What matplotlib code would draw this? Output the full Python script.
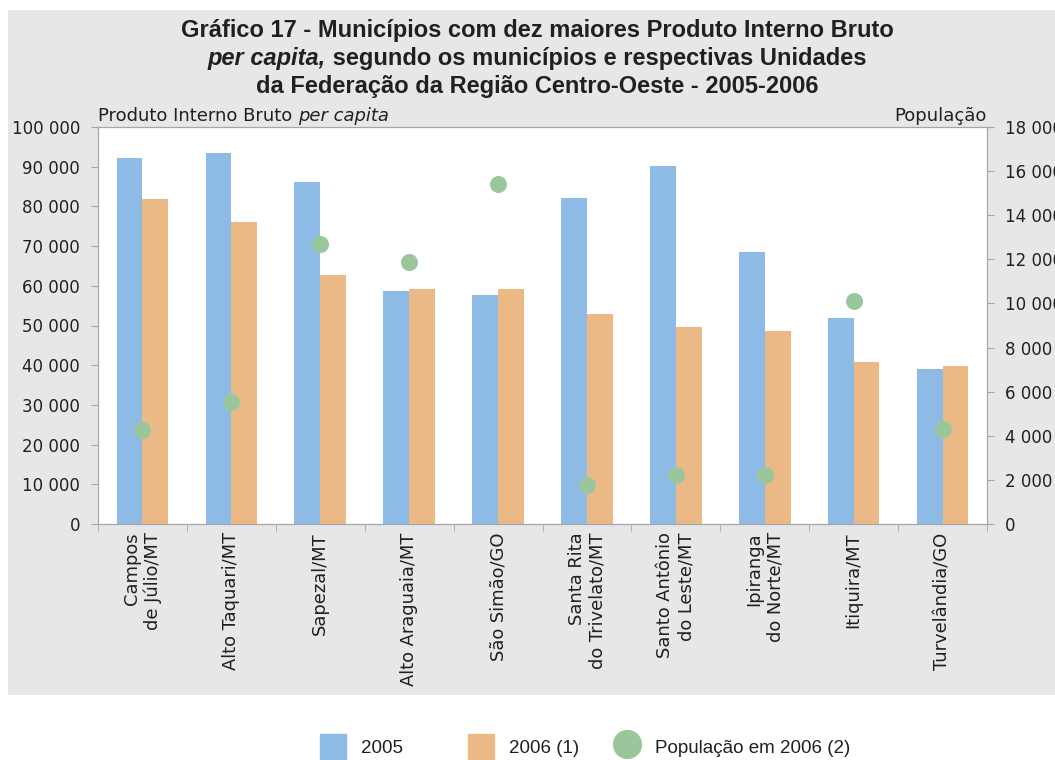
import matplotlib
matplotlib.use("Agg")
from matplotlib import pyplot as plt
from matplotlib.patches import Rectangle, Patch
from matplotlib.lines import Line2D
from matplotlib.ticker import FuncFormatter, MultipleLocator
import numpy as np

municipios = ["Campos\nde Júlio/MT", "Alto Taquari/MT", "Sapezal/MT", "Alto Araguaia/MT",
              "São Simão/GO", "Santa Rita\ndo Trivelato/MT", "Santo Antônio\ndo Leste/MT",
              "Ipiranga\ndo Norte/MT", "Itiquira/MT", "Turvelândia/GO"]
pib_2005 = [92200, 93400, 86100, 58600, 57800, 82100, 90100, 68400, 51800, 39100]
pib_2006 = [81800, 76000, 62600, 59100, 59100, 53000, 49500, 48500, 40900, 39900]
populacao_2006 = [4270, 5550, 12700, 11900, 15400, 1770, 2200, 2200, 10100, 4300]

blue = "#8dbbe5"
orange = "#ebb986"
green = "#99c79b"
grey = "#a6a6a6"
txt = "#231f20"

plt.rcParams["font.family"] = ["DejaVu Sans"]

fig = plt.figure(figsize=(10.55, 7.6), dpi=100)
fig.patch.set_facecolor("white")
fig.patches.append(Rectangle((8 / 1055, 1 - 695 / 760), 1, 685 / 760, transform=fig.transFigure,
                             facecolor="#e6e7e8", edgecolor="none", zorder=-10))

ax = fig.add_axes([98 / 1055, 1 - 524 / 760, 889 / 1055, 397 / 760])
ax.set_facecolor("white")
x = np.arange(len(municipios))
w = 0.29
ax.bar(x - w / 2, pib_2005, w, color=blue, label="2005")
ax.bar(x + w / 2, pib_2006, w, color=orange, label="2006 (1)")
ax.set_xlim(-0.5, len(municipios) - 0.5)
ax.set_ylim(0, 100000)
ax.yaxis.set_major_locator(MultipleLocator(10000))
fmt = FuncFormatter(lambda v, p: f"{int(v):,}".replace(",", " "))
ax.yaxis.set_major_formatter(fmt)

ax.set_xticks(x)
ax.set_xticklabels(municipios, rotation=90, ha="center", va="top", multialignment="right",
                   fontsize=12.9, color=txt)
ax.set_xticks(np.arange(-0.5, len(municipios)), minor=True)
ax.tick_params(axis="x", which="major", length=0, pad=6)
ax.tick_params(axis="x", which="minor", length=5, color=grey, direction="out")
ax.tick_params(axis="y", length=5, color=grey, labelsize=12, labelcolor=txt, pad=8)
for s in ax.spines.values():
    s.set_color(grey)

ax2 = ax.twinx()
ax2.scatter(x, populacao_2006, s=150, color=green, zorder=3, linewidths=0)
ax2.set_ylim(0, 18000)
ax2.yaxis.set_major_locator(MultipleLocator(2000))
ax2.yaxis.set_major_formatter(fmt)
ax2.tick_params(axis="y", length=5, color=grey, labelsize=12, labelcolor=txt, pad=8)
for s in ax2.spines.values():
    s.set_color(grey)

# axis titles
t = ax.text(0, 1.006, "Produto Interno Bruto ", transform=ax.transAxes, fontsize=13,
            color=txt, ha="left", va="bottom")
ax.annotate("per capita", xy=(1, 0), xycoords=t, ha="left", va="bottom", fontsize=13,
            style="italic", color=txt)
ax.text(1, 1.006, "População", transform=ax.transAxes, fontsize=13, color=txt,
        ha="right", va="bottom")

# title
tfont = dict(fontsize=17, fontweight="bold", color=txt, family="Liberation Sans")
fig.text(537 / 1055, 1 - 30 / 760, "Gráfico 17 - Municípios com dez maiores Produto Interno Bruto",
         ha="center", va="center", **tfont)
fig.text(537 / 1055, 1 - 87 / 760, "da Federação da Região Centro-Oeste - 2005-2006",
         ha="center", va="center", **tfont)
r = fig.canvas.get_renderer()
p1 = fig.text(0, 1 - 58 / 760, "per capita,", ha="left", va="center", style="italic", **tfont)
p2 = fig.text(0, 1 - 58 / 760, " segundo os municípios e respectivas Unidades", ha="left",
              va="center", **tfont)
w1 = p1.get_window_extent(r).width
w2 = p2.get_window_extent(r).width
x0 = 537 - (w1 + w2) / 2
p1.set_x(x0 / 1055)
p2.set_x((x0 + w1) / 1055)

# legend, one entry each so the spacing follows the reference
handles = [Patch(color=blue), Patch(color=orange),
           Line2D([], [], marker="o", linestyle="none", markersize=20, color=green)]
labels = ["2005", "2006 (1)", "População em 2006 (2)"]
lx = [320, 468, 614]
for h, lab, px in zip(handles, labels, lx):
    fig.legend([h], [lab], loc="center left", bbox_to_anchor=(px / 1055, 1 - 747 / 760),
               frameon=False, prop={"family": "Liberation Sans", "size": 13.5},
               handlelength=1.4, handleheight=1.75, handletextpad=0.8, borderpad=0,
               borderaxespad=0, labelcolor=txt)

fig.savefig("out.png", dpi=100)
